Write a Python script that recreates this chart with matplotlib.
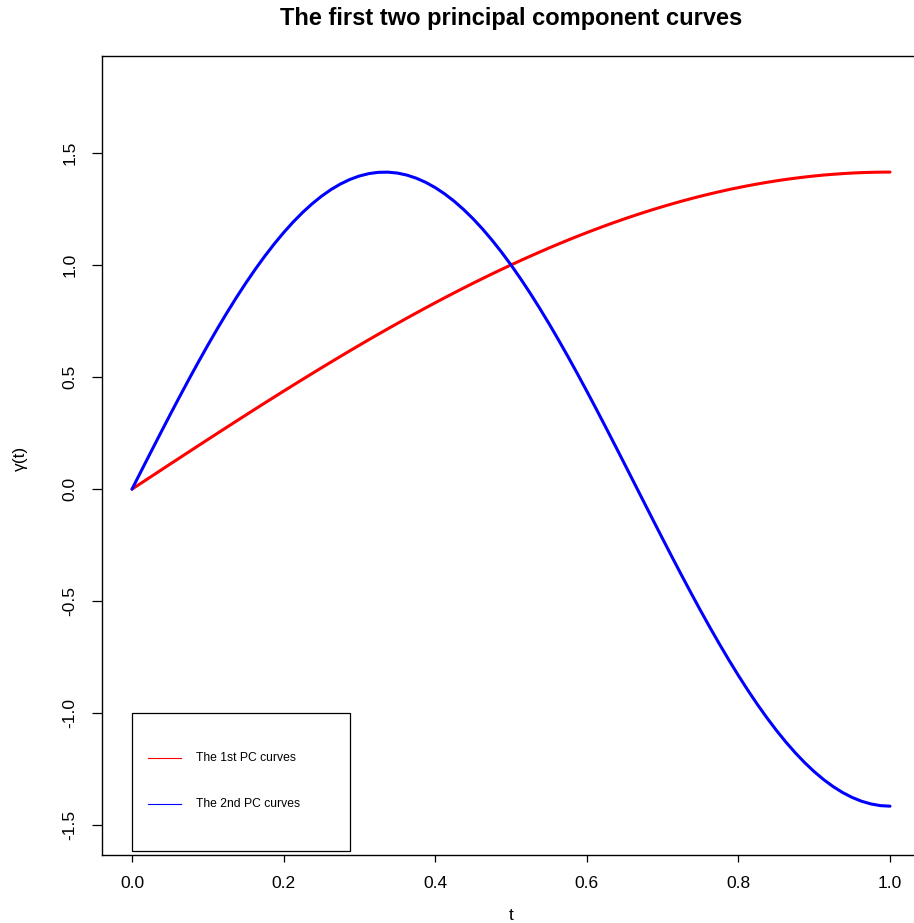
import matplotlib
matplotlib.use("Agg")
import matplotlib.pyplot as plt
from matplotlib.patches import Rectangle

# ---- data ----
t = [0.0000, 0.0125, 0.0250, 0.0375, 0.0500, 0.0625, 0.0750, 0.0875, 0.1000, 0.1125,
     0.1250, 0.1375, 0.1500, 0.1625, 0.1750, 0.1875, 0.2000, 0.2125, 0.2250, 0.2375,
     0.2500, 0.2625, 0.2750, 0.2875, 0.3000, 0.3125, 0.3250, 0.3375, 0.3500, 0.3625,
     0.3750, 0.3875, 0.4000, 0.4125, 0.4250, 0.4375, 0.4500, 0.4625, 0.4750, 0.4875,
     0.5000, 0.5125, 0.5250, 0.5375, 0.5500, 0.5625, 0.5750, 0.5875, 0.6000, 0.6125,
     0.6250, 0.6375, 0.6500, 0.6625, 0.6750, 0.6875, 0.7000, 0.7125, 0.7250, 0.7375,
     0.7500, 0.7625, 0.7750, 0.7875, 0.8000, 0.8125, 0.8250, 0.8375, 0.8500, 0.8625,
     0.8750, 0.8875, 0.9000, 0.9125, 0.9250, 0.9375, 0.9500, 0.9625, 0.9750, 0.9875,
     1.0000]
pc1 = [0.0000, 0.0278, 0.0555, 0.0833, 0.1110, 0.1386, 0.1662, 0.1938, 0.2212, 0.2486,
       0.2759, 0.3031, 0.3301, 0.3571, 0.3839, 0.4105, 0.4370, 0.4633, 0.4895, 0.5154,
       0.5412, 0.5667, 0.5921, 0.6172, 0.6420, 0.6667, 0.6910, 0.7151, 0.7389, 0.7625,
       0.7857, 0.8086, 0.8313, 0.8536, 0.8755, 0.8972, 0.9185, 0.9394, 0.9600, 0.9802,
       1.0000, 1.0194, 1.0385, 1.0571, 1.0754, 1.0932, 1.1106, 1.1276, 1.1441, 1.1602,
       1.1759, 1.1911, 1.2058, 1.2201, 1.2339, 1.2472, 1.2601, 1.2724, 1.2843, 1.2957,
       1.3066, 1.3169, 1.3268, 1.3362, 1.3450, 1.3533, 1.3611, 1.3684, 1.3751, 1.3814,
       1.3870, 1.3922, 1.3968, 1.4009, 1.4044, 1.4074, 1.4099, 1.4118, 1.4131, 1.4139,
       1.4142]
pc2 = [0.0000, 0.0833, 0.1662, 0.2486, 0.3301, 0.4105, 0.4895, 0.5667, 0.6420, 0.7151,
       0.7857, 0.8536, 0.9185, 0.9802, 1.0385, 1.0932, 1.1441, 1.1911, 1.2339, 1.2724,
       1.3066, 1.3362, 1.3611, 1.3814, 1.3968, 1.4074, 1.4131, 1.4139, 1.4099, 1.4009,
       1.3870, 1.3684, 1.3450, 1.3169, 1.2843, 1.2472, 1.2058, 1.1602, 1.1106, 1.0571,
       1.0000, 0.9394, 0.8755, 0.8086, 0.7389, 0.6667, 0.5921, 0.5154, 0.4370, 0.3571,
       0.2759, 0.1938, 0.1110, 0.0278, -0.0555, -0.1386, -0.2212, -0.3031, -0.3839, -0.4633,
       -0.5412, -0.6172, -0.6910, -0.7625, -0.8313, -0.8972, -0.9600, -1.0194, -1.0754, -1.1276,
       -1.1759, -1.2201, -1.2601, -1.2957, -1.3268, -1.3533, -1.3751, -1.3922, -1.4044, -1.4118,
       -1.4142]
series_labels = ["The 1st PC curves", "The 2nd PC curves"]
series_colors = ["#FF0000", "#0000FF"]
xticks = [0.0, 0.2, 0.4, 0.6, 0.8, 1.0]
yticks = [-1.5, -1.0, -0.5, 0.0, 0.5, 1.0, 1.5]
title = "The first two principal component curves"

plt.rcParams['font.family'] = ['Liberation Sans', 'DejaVu Sans']

W, H = 914, 923
fig = plt.figure(figsize=(W / 100, H / 100), dpi=100)
ax_l, ax_r, ax_t, ax_b = 101.7, 920.3, 56, 855
ax = fig.add_axes([ax_l / W, 1 - ax_b / H, (ax_r - ax_l) / W, (ax_b - ax_t) / H])

ax.plot(t, pc1, color=series_colors[0], lw=2.2, solid_capstyle='round',
        solid_joinstyle='round', zorder=3)
ax.plot(t, pc2, color=series_colors[1], lw=2.2, solid_capstyle='round',
        solid_joinstyle='round', zorder=3)

ax.set_xlim(-0.04, 1.04)
ax.set_ylim(-1.632, 1.932)
ax.set_xticks(xticks)
ax.set_xticklabels([f"{v:.1f}" for v in xticks])
ax.set_yticks(yticks)
ax.set_yticklabels([f"{v:.1f}" for v in yticks], rotation=90, va='center')
ax.tick_params(axis='both', direction='out', width=0.9, labelsize=12.5, colors='black')
ax.tick_params(axis='x', length=5, pad=10)
ax.tick_params(axis='y', length=7, pad=10.5)
for s in ['left', 'bottom', 'top']:
    ax.spines[s].set_linewidth(1.0)
ax.spines['right'].set_visible(False)

# legend box (R style, top-left at (0, -1))
leg_x0, leg_y0, leg_w, leg_h = 0.0, -1.616, 0.2876, 0.616
ax.add_patch(Rectangle((leg_x0, leg_y0), leg_w, leg_h, fill=False, lw=0.9,
                       edgecolor='black', zorder=4))
rows_y = [-1.2015, -1.4066]
for lab, col, ry in zip(series_labels, series_colors, rows_y):
    ax.plot([0.0211, 0.0646], [ry, ry], color=col, lw=0.8, zorder=5)
    ax.text(0.0844, ry, lab, fontsize=8.7, va='center', ha='left', zorder=5)

cx = (ax_l + ax_r) / 2 / W
fig.text(cx, 1 - 19 / H, title, ha='center', va='center', fontsize=17, fontweight='bold')
fig.text(cx, 1 - 915 / H, "t", ha='center', va='center', fontsize=12.5)
fig.text(20 / W, 1 - 458 / H, "γ(t)", ha='center', va='center', fontsize=12.5, rotation=90)

fig.savefig("out.png", dpi=100)
